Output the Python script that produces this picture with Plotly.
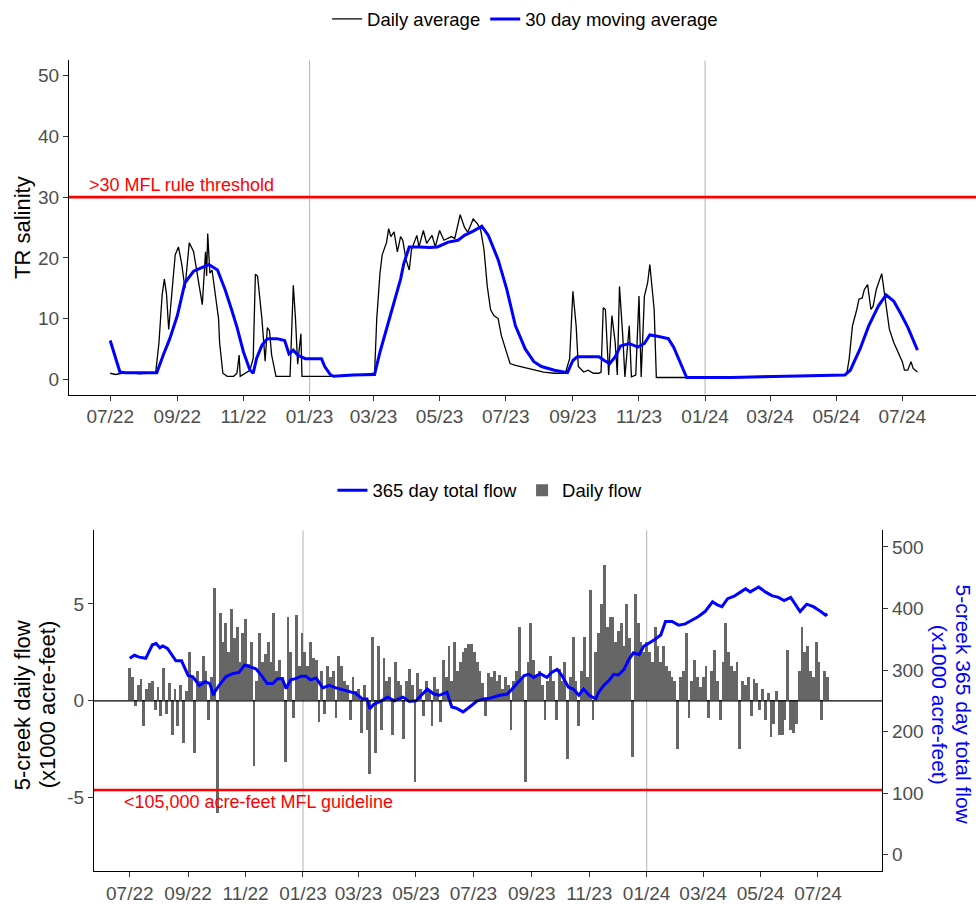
import pandas as pd
import plotly.graph_objects as go

# ---- top panel: TR salinity ----
sal_dates = [
    "2022-07-01", "2022-07-06", "2022-07-12", "2022-07-20", "2022-07-28", "2022-08-05", "2022-08-12",
    "2022-08-15", "2022-08-18", "2022-08-20", "2022-08-22", "2022-08-24", "2022-08-27", "2022-08-30",
    "2022-09-02", "2022-09-05", "2022-09-08", "2022-09-12", "2022-09-16", "2022-09-20", "2022-09-24",
    "2022-09-27", "2022-09-28", "2022-09-29", "2022-10-01", "2022-10-03", "2022-10-05", "2022-10-07",
    "2022-10-09", "2022-10-10", "2022-10-13", "2022-10-17", "2022-10-23", "2022-10-26", "2022-10-28",
    "2022-10-29", "2022-11-03", "2022-11-07", "2022-11-10", "2022-11-12", "2022-11-14", "2022-11-18",
    "2022-11-21", "2022-11-23", "2022-11-25", "2022-11-27", "2022-12-01", "2022-12-14", "2022-12-17",
    "2022-12-19", "2022-12-21", "2022-12-24", "2022-12-25", "2023-01-20", "2023-02-15", "2023-03-02",
    "2023-03-04", "2023-03-07", "2023-03-09", "2023-03-13", "2023-03-15", "2023-03-17", "2023-03-20",
    "2023-03-23", "2023-03-26", "2023-03-28", "2023-03-31", "2023-04-03", "2023-04-05", "2023-04-10",
    "2023-04-12", "2023-04-16", "2023-04-19", "2023-04-24", "2023-04-27", "2023-05-01", "2023-05-05",
    "2023-05-12", "2023-05-15", "2023-05-20", "2023-05-24", "2023-05-27", "2023-06-01", "2023-06-05",
    "2023-06-08", "2023-06-11", "2023-06-14", "2023-06-17", "2023-06-20", "2023-06-24", "2023-06-27",
    "2023-07-02", "2023-07-05", "2023-07-10", "2023-07-15", "2023-07-22", "2023-07-29", "2023-08-05",
    "2023-08-15", "2023-08-25", "2023-08-29", "2023-09-01", "2023-09-04", "2023-09-06", "2023-09-11",
    "2023-09-15", "2023-09-20", "2023-09-25", "2023-09-27", "2023-09-29", "2023-10-01", "2023-10-04",
    "2023-10-07", "2023-10-10", "2023-10-12", "2023-10-14", "2023-10-17", "2023-10-19", "2023-10-23",
    "2023-10-25", "2023-10-29", "2023-11-01", "2023-11-03", "2023-11-06", "2023-11-09", "2023-11-11",
    "2023-11-15", "2023-11-17", "2023-12-15", "2024-02-15", "2024-04-10", "2024-05-09", "2024-05-11",
    "2024-05-13", "2024-05-16", "2024-05-20", "2024-05-22", "2024-05-25", "2024-05-27", "2024-05-30",
    "2024-06-02", "2024-06-04", "2024-06-07", "2024-06-12", "2024-06-15", "2024-06-19", "2024-06-23",
    "2024-06-28", "2024-07-01", "2024-07-03", "2024-07-06", "2024-07-09", "2024-07-11", "2024-07-15",
]
sal_daily = [
    1.0, 0.8, 1.0, 1.1, 0.9, 1.0, 1.1,
    6.0, 14.0, 16.5, 14.0, 8.2, 15.0, 20.5,
    21.8, 19.0, 15.0, 22.5, 21.0, 17.0, 12.3,
    21.0, 17.0, 24.0, 17.5, 18.0, 15.0, 13.0,
    10.0, 6.0, 1.0, 0.5, 0.5, 1.0, 4.0,
    0.5, 1.0, 1.5, 3.5, 17.3, 17.0, 10.0,
    3.0, 8.5, 8.0, 4.0, 0.5, 0.5, 15.5,
    10.0, 2.5, 7.5, 0.5, 0.5, 0.7, 1.0,
    10.0, 17.5, 20.5, 22.5, 24.8, 23.5, 24.3,
    21.0, 23.5, 22.9, 19.7, 18.0, 21.3, 23.7,
    21.8, 24.5, 22.4, 23.7, 21.8, 24.5, 22.9,
    23.5, 23.2, 27.1, 25.0, 24.2, 26.4, 25.6,
    24.5, 21.3, 15.3, 11.5, 10.5, 10.0, 7.2,
    4.5, 2.6, 2.3, 2.1, 1.8, 1.5, 1.2,
    1.0, 1.0, 3.4, 14.5, 8.8, 2.1, 1.2,
    1.5, 1.0, 1.0, 1.2, 11.8, 11.5, 0.7,
    10.5, 6.1, 0.7, 15.3, 7.2, 0.4, 8.8,
    0.4, 0.7, 13.7, 0.4, 13.7, 15.9, 18.9,
    11.5, 0.3, 0.3, 0.4, 0.6, 0.8, 1.2,
    3.4, 8.8, 11.5, 13.2, 13.4, 14.8, 15.6,
    11.5, 12.0, 14.8, 17.4, 13.7, 8.3, 6.1,
    4.2, 2.9, 1.5, 1.5, 2.9, 1.8, 1.2,
]

ma_dates = [
    "2022-07-01", "2022-07-06", "2022-07-10", "2022-07-15", "2022-08-13", "2022-08-19", "2022-08-25",
    "2022-09-01", "2022-09-08", "2022-09-16", "2022-09-22", "2022-09-30", "2022-10-08", "2022-10-15",
    "2022-10-21", "2022-10-26", "2022-11-01", "2022-11-07", "2022-11-10", "2022-11-13", "2022-11-18",
    "2022-11-23", "2022-12-02", "2022-12-09", "2022-12-13", "2022-12-17", "2022-12-21", "2022-12-28",
    "2023-01-12", "2023-01-15", "2023-01-20", "2023-01-23", "2023-02-10", "2023-03-02", "2023-03-07",
    "2023-03-15", "2023-03-26", "2023-03-29", "2023-04-03", "2023-04-12", "2023-04-22", "2023-04-29",
    "2023-05-09", "2023-05-18", "2023-05-24", "2023-06-01", "2023-06-09", "2023-06-15", "2023-06-24",
    "2023-07-02", "2023-07-10", "2023-07-19", "2023-07-27", "2023-08-03", "2023-08-15", "2023-08-27",
    "2023-09-01", "2023-09-05", "2023-09-25", "2023-09-30", "2023-10-05", "2023-10-10", "2023-10-15",
    "2023-10-23", "2023-10-31", "2023-11-06", "2023-11-11", "2023-11-18", "2023-11-28", "2023-12-03",
    "2023-12-09", "2023-12-15", "2024-01-25", "2024-03-17", "2024-05-09", "2024-05-14", "2024-05-23",
    "2024-05-31", "2024-06-09", "2024-06-16", "2024-06-23", "2024-06-29", "2024-07-06", "2024-07-15",
]
ma_vals = [
    6.4, 3.4, 1.2, 1.1, 1.1, 4.0, 6.7,
    10.5, 15.9, 17.8, 18.3, 18.9, 18.0, 14.8,
    11.5, 8.6, 4.5, 1.5, 1.0, 3.4, 5.6,
    6.7, 6.7, 6.4, 4.2, 4.8, 4.0, 3.4,
    3.4, 2.1, 0.8, 0.5, 0.7, 0.8, 4.5,
    9.4, 16.5, 19.1, 21.8, 21.8, 21.7, 21.8,
    22.6, 22.9, 23.7, 24.4, 25.2, 23.7, 19.7,
    14.8, 8.8, 5.0, 2.9, 2.1, 1.5, 1.1,
    3.1, 3.7, 3.7, 3.1, 2.6, 3.7, 5.5,
    5.9, 5.3, 5.9, 7.3, 7.1, 6.7, 5.3,
    2.9, 0.3, 0.3, 0.5, 0.7, 1.5, 5.0,
    8.8, 12.1, 13.9, 12.9, 11.0, 8.6, 4.8,
]
sal_threshold = 30

# ---- bottom panel: 5-creek flow ----
total_dates = [
    "2022-07-01", "2022-07-06", "2022-07-11", "2022-07-18", "2022-07-25", "2022-07-29", "2022-08-02",
    "2022-08-05", "2022-08-10", "2022-08-16", "2022-08-19", "2022-08-25", "2022-09-01", "2022-09-06",
    "2022-09-13", "2022-09-19", "2022-09-24", "2022-09-28", "2022-09-29", "2022-10-04", "2022-10-11",
    "2022-10-18", "2022-10-25", "2022-10-31", "2022-11-05", "2022-11-12", "2022-11-19", "2022-11-24",
    "2022-11-30", "2022-12-05", "2022-12-10", "2022-12-14", "2022-12-19", "2022-12-24", "2022-12-30",
    "2023-01-04", "2023-01-09", "2023-01-15", "2023-01-22", "2023-01-29", "2023-02-05", "2023-02-12",
    "2023-02-19", "2023-02-26", "2023-03-05", "2023-03-10", "2023-03-13", "2023-03-17", "2023-03-24",
    "2023-04-01", "2023-04-08", "2023-04-17", "2023-04-24", "2023-05-01", "2023-05-08", "2023-05-13",
    "2023-05-20", "2023-05-26", "2023-06-03", "2023-06-08", "2023-06-13", "2023-06-20", "2023-06-27",
    "2023-07-05", "2023-07-12", "2023-07-18", "2023-07-29", "2023-08-06", "2023-08-11", "2023-08-18",
    "2023-08-24", "2023-08-29", "2023-09-03", "2023-09-10", "2023-09-17", "2023-09-22", "2023-09-28",
    "2023-10-03", "2023-10-10", "2023-10-15", "2023-10-21", "2023-10-26", "2023-11-01", "2023-11-08",
    "2023-11-11", "2023-11-17", "2023-11-22", "2023-11-27", "2023-12-02", "2023-12-08", "2023-12-13",
    "2023-12-18", "2023-12-24", "2023-12-29", "2024-01-03", "2024-01-10", "2024-01-16", "2024-01-21",
    "2024-01-28", "2024-02-04", "2024-02-11", "2024-02-18", "2024-02-25", "2024-03-03", "2024-03-11",
    "2024-03-16", "2024-03-21", "2024-03-27", "2024-04-03", "2024-04-10", "2024-04-15", "2024-04-20",
    "2024-04-29", "2024-05-06", "2024-05-13", "2024-05-20", "2024-05-26", "2024-06-02", "2024-06-07",
    "2024-06-12", "2024-06-19", "2024-06-26", "2024-07-04", "2024-07-09", "2024-07-11",
]
total_vals = [
    319, 324, 321, 319, 341, 343, 336,
    339, 335, 323, 315, 315, 291, 289,
    275, 281, 278, 259, 264, 275, 289,
    294, 296, 308, 305, 302, 289, 278,
    278, 286, 286, 270, 284, 286, 290,
    290, 284, 287, 271, 275, 271, 268,
    266, 262, 253, 253, 237, 244, 249,
    256, 250, 256, 249, 250, 261, 269,
    261, 259, 264, 240, 238, 232, 240,
    250, 253, 254, 259, 261, 269, 280,
    291, 293, 288, 294, 288, 296, 301,
    291, 272, 269, 259, 269, 259, 253,
    264, 276, 283, 293, 292, 301, 317,
    328, 325, 339, 343, 350, 357, 379,
    379, 373, 375, 381, 387, 395, 411,
    406, 403, 416, 420, 427, 432, 427,
    435, 427, 421, 418, 413, 418, 406,
    395, 407, 403, 395, 389, 391,
]

flow_start = "2022-07-01"
flow_vals = [
    1.7, 1.2, -0.3, 0.8, 1.1, -1.3, 0.6, 0.9, 1.0, -0.5, 0.7,       # Jul 22
    -0.8, 1.7, -0.7, 0.9, -1.8, 0.6, -1.3, 0.8, -2.2, 0.5,          # Aug 22
    2.5, 1.2, -2.7, 1.5, 1.0, 2.3, 1.5, -1.0, 1.2, 5.8,             # Sep 22
    -5.8, 4.5, 3.0, 4.0, 2.5, 4.7, 3.2, 3.8, 2.0, 3.5,              # Oct 22
    4.2, 1.9, 3.0, -3.4, 1.0, 3.5, 2.0, 2.4, 3.0, 2.0,              # Nov 22
    4.5, 1.5, 2.1, 1.2, -3.2, 4.3, 2.5, -0.9, 4.4, 1.8,             # Dec 22
    3.5, 2.5, 1.8, 3.0, 2.2, 2.1, -1.1, 1.5, -0.7, 1.8, 1.2,        # Jan 23
    1.5, -0.9, 2.3, 1.8, 1.0, 0.8, -1.0, 1.2, 0.5,                  # Feb 23
    0.6, -1.7, 0.8, -1.5, -3.8, 3.3, -2.7, 2.8, -1.5, 2.2, 1.0,     # Mar 23
    1.2, -1.8, 2.0, 1.0, 0.8, -2.0, 1.0, 1.6, 0.8, -4.2,            # Apr 23
    1.4, 0.6, -0.8, 1.0, 0.5, -1.3, 1.2, 0.6, -1.1, 2.1,            # May 23
    1.2, 2.8, 1.0, 3.0, 1.5, 2.0, 2.5, 2.7, 2.9, 2.9,               # Jun 23
    2.5, 2.0, 1.5, 0.9, -0.8, 1.4, 1.2, 1.5, 1.0, 1.3, 0.6,         # Jul 23
    1.2, 0.8, -1.5, 1.0, 1.5, 3.8, 1.2, -4.2, 2.0, 4.0,             # Aug 23
    2.1, 1.2, 1.5, 0.8, -1.0, 1.0, 2.3, 1.0, -1.0, 1.6,             # Sep 23
    1.0, 2.0, -3.0, 1.2, 3.3, 1.0, -1.3, 1.5, 3.3, 1.2,             # Oct 23
    5.7, -1.0, 2.5, 3.5, 5.0, 7.0, 3.8, 4.3, 4.3, 3.0,              # Nov 23
    3.6, 4.0, 2.8, 5.0, 3.2, -2.9, 5.5, 4.0, 3.0, 2.5, 3.0,         # Dec 23
    2.5, 2.0, 3.8, 2.8, 2.0, 2.8, 1.8, 1.5, 1.2, 1.0,               # Jan 24
    -2.5, 1.2, 1.5, 3.5, -0.9, 1.0, 2.1, 1.2, 0.7,                  # Feb 24
    1.2, 1.8, -0.9, 1.5, 2.6, 1.0, -1.0, 2.0, 4.0, 2.5, 1.8,        # Mar 24
    1.5, 2.0, -2.5, 1.0, 0.8, 1.2, -0.8, 1.1, 0.9, -0.5,            # Apr 24
    0.6, -1.0, 0.4, -1.9, -1.2, 0.5, -1.8, -1.8, -1.0, 2.6,         # May 24
    -1.5, -1.7, -1.2, 1.5, 3.8, 2.5, 2.8, 1.5, 1.2, 3.0,            # Jun 24
    2.0, -1.0, 1.5, 1.2,                                            # Jul 24
]
flow_dates = pd.date_range(flow_start, periods=len(flow_vals), freq="3D")
guideline = 105

year_lines = ["2023-01-01", "2024-01-01"]
tick_dates = ["2022-07-01", "2022-09-01", "2022-11-01", "2023-01-01", "2023-03-01", "2023-05-01",
              "2023-07-01", "2023-09-01", "2023-11-01", "2024-01-01", "2024-03-01", "2024-05-01",
              "2024-07-01"]
tick_labels = ["07/22", "09/22", "11/22", "01/23", "03/23", "05/23", "07/23", "09/23", "11/23",
               "01/24", "03/24", "05/24", "07/24"]
x_range = ["2022-05-24", "2024-09-07"]
flow_ticks = [-5, 0, 5]
flow_ticklabels = ["-5", "0", "5"]

FONT = "Liberation Sans, Arial, sans-serif"
TICKFONT = dict(family=FONT, size=19, color="#4D4D4D")
LEGFONT = dict(family=FONT, size=18.5, color="black")

fig = go.Figure()

fig.add_trace(go.Scatter(x=sal_dates, y=sal_daily, mode="lines", name="Daily average",
                         line=dict(color="black", width=1.3), xaxis="x", yaxis="y", legend="legend"))
fig.add_trace(go.Scatter(x=ma_dates, y=ma_vals, mode="lines", name="30 day moving average",
                         line=dict(color="#0000FF", width=3), xaxis="x", yaxis="y", legend="legend"))

fig.add_trace(go.Bar(x=flow_dates, y=flow_vals, name="Daily flow", width=3 * 86400000,
                     marker=dict(color="#666666", line=dict(width=0)),
                     xaxis="x2", yaxis="y2", legend="legend2", legendrank=2))
fig.add_trace(go.Scatter(x=total_dates, y=total_vals, mode="lines", name="365 day total flow",
                         line=dict(color="#0000FF", width=3), xaxis="x2", yaxis="y3",
                         legend="legend2", legendrank=1))

axis_common = dict(showline=True, linecolor="black", linewidth=1.2, ticks="outside", ticklen=5,
                   tickcolor="#333333", tickwidth=1.1, showgrid=False, zeroline=False, tickfont=TICKFONT)

fig.update_layout(
    width=976, height=904,
    margin=dict(l=0, r=0, t=0, b=0),
    paper_bgcolor="white", plot_bgcolor="white",
    font=dict(family=FONT, size=18, color="black"),
    bargap=0,
    xaxis=dict(domain=[0.0707, 1.0], anchor="y", type="date", range=x_range,
               tickvals=tick_dates, ticktext=tick_labels, **axis_common),
    yaxis=dict(domain=[0.5664, 0.9392], anchor="x", range=[-2.5, 52.5],
               tickvals=[0, 10, 20, 30, 40, 50], **axis_common),
    xaxis2=dict(domain=[0.0963, 0.9037], anchor="y2", type="date", range=x_range,
                tickvals=tick_dates, ticktext=tick_labels, **axis_common),
    yaxis2=dict(domain=[0.0343, 0.4148], anchor="x2", range=[-8.8, 8.8],
                tickvals=flow_ticks, ticktext=flow_ticklabels, **axis_common),
    yaxis3=dict(overlaying="y2", side="right", anchor="x2", range=[-27, 527],
                tickvals=[0, 100, 200, 300, 400, 500], **axis_common),
    legend=dict(orientation="h", x=0.538, xanchor="center", y=0.985, yanchor="middle",
                font=LEGFONT, bgcolor="rgba(0,0,0,0)"),
    legend2=dict(orientation="h", x=0.502, xanchor="center", y=0.459, yanchor="middle",
                 font=LEGFONT, bgcolor="rgba(0,0,0,0)", traceorder="normal"),
)

# vertical year markers
for d in year_lines:
    fig.add_shape(type="line", x0=d, x1=d, y0=0, y1=1, xref="x", yref="y domain",
                  line=dict(color="#BEBEBE", width=1.2), layer="below")
    fig.add_shape(type="line", x0=d, x1=d, y0=0, y1=1, xref="x2", yref="y2 domain",
                  line=dict(color="#BEBEBE", width=1.2), layer="below")

# thresholds and zero line
fig.add_shape(type="line", x0=0, x1=1, xref="x domain", y0=sal_threshold, y1=sal_threshold, yref="y",
              line=dict(color="#FF0000", width=2.6))
fig.add_shape(type="line", x0=0, x1=1, xref="x2 domain", y0=0, y1=0, yref="y2",
              line=dict(color="black", width=1.3))
fig.add_shape(type="line", x0=0, x1=1, xref="x2 domain", y0=guideline, y1=guideline, yref="y3",
              line=dict(color="#FF0000", width=2.6))

fig.add_annotation(text=">30 MFL rule threshold", x=0.089, xref="paper", xanchor="left",
                   y=sal_threshold, yref="y", yanchor="bottom", showarrow=False,
                   font=dict(family=FONT, size=18, color="#FF0000"))
fig.add_annotation(text="<105,000 acre-feet MFL guideline", x=0.125, xref="paper", xanchor="left",
                   y=guideline, yref="y3", yanchor="top", showarrow=False,
                   font=dict(family=FONT, size=18, color="#FF0000"))

# axis titles, one annotation per line
TITLEFONT = dict(family=FONT, size=22, color="black")
RTITLEFONT = dict(family=FONT, size=21, color="#0000FF")
fig.add_annotation(text="TR salinity", x=0.0225, y=0.7533, xref="paper", yref="paper",
                   xanchor="center", yanchor="middle", textangle=-90, showarrow=False, font=TITLEFONT)
fig.add_annotation(text="5-creek daily flow", x=0.0230, y=0.2201, xref="paper", yref="paper",
                   xanchor="center", yanchor="middle", textangle=-90, showarrow=False, font=TITLEFONT)
fig.add_annotation(text="(x1000 acre-feet)", x=0.0487, y=0.2201, xref="paper", yref="paper",
                   xanchor="center", yanchor="middle", textangle=-90, showarrow=False, font=TITLEFONT)
fig.add_annotation(text="5-creek 365 day total flow", x=0.9870, y=0.2201, xref="paper", yref="paper",
                   xanchor="center", yanchor="middle", textangle=90, showarrow=False, font=RTITLEFONT)
fig.add_annotation(text="(x1000 acre-feet)", x=0.9621, y=0.2201, xref="paper", yref="paper",
                   xanchor="center", yanchor="middle", textangle=90, showarrow=False, font=RTITLEFONT)

fig.write_html("out.html", config={"displayModeBar": False},
               post_script="document.body.style.margin='0';")
